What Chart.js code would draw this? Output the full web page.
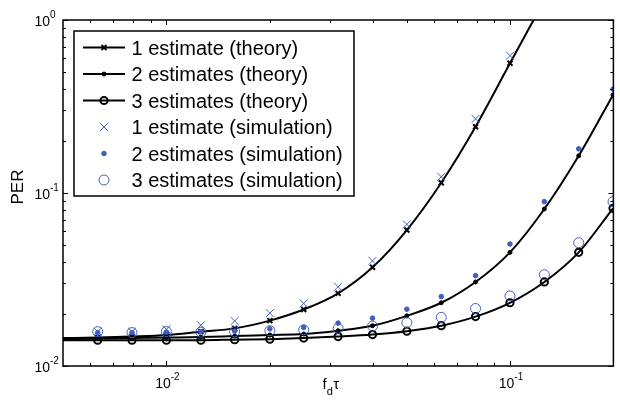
<!DOCTYPE html>
<html><head><meta charset="utf-8">
<script src="https://cdn.jsdelivr.net/npm/chart.js@4"></script>
<style>html,body{margin:0;padding:0;background:#fff}</style>
</head><body>
<canvas id="c" width="620" height="403"></canvas>
<script>
// ---- data ----
const simX    = [0.00631, 0.00794, 0.01, 0.0126, 0.0158, 0.0200, 0.0251, 0.0316, 0.0398, 0.0501, 0.0631, 0.0794, 0.1, 0.1259, 0.1585, 0.1995];
const theoryX = [0.005, 0.00631, 0.00794, 0.01, 0.0126, 0.0158, 0.0200, 0.0251, 0.0316, 0.0398, 0.0501, 0.0631, 0.0794, 0.1, 0.1259, 0.1585, 0.1995];
const theory1 = [0.0145, 0.0146, 0.0148, 0.0151, 0.0158, 0.0165, 0.0183, 0.0212, 0.0263, 0.0372, 0.0611, 0.1147, 0.2417, 0.562, 1.3, null, null];
const theory2 = [0.0143, 0.0144, 0.0145, 0.0146, 0.0147, 0.0149, 0.0151, 0.0153, 0.0160, 0.0171, 0.0195, 0.0232, 0.0306, 0.0454, 0.0808, 0.164, 0.369];
const theory3 = [0.0141, 0.0141, 0.0141, 0.0141, 0.0141, 0.0142, 0.0143, 0.0145, 0.0148, 0.0152, 0.0159, 0.0171, 0.0193, 0.0232, 0.0306, 0.0454, 0.0816];
const sim1    = [0.0158, 0.0158, 0.0163, 0.0172, 0.0182, 0.0202, 0.0230, 0.0287, 0.0405, 0.0659, 0.124, 0.268, 0.622, null, null, null];
const sim2    = [0.0156, 0.0156, 0.0157, 0.0158, 0.0159, 0.0164, 0.0167, 0.0177, 0.0189, 0.0213, 0.0252, 0.0333, 0.0507, 0.0891, 0.180, 0.398];
const sim3    = [0.0158, 0.0156, 0.0158, 0.0157, 0.0158, 0.0160, 0.0162, 0.0165, 0.0170, 0.0178, 0.0191, 0.0215, 0.0254, 0.0337, 0.0516, 0.0891];
const labels  = ['1 estimate (theory)', '2 estimates (theory)', '3 estimates (theory)',
                 '1 estimate (simulation)', '2 estimates (simulation)', '3 estimates (simulation)'];
const xMin = 0.005, xMax = 0.2, yMin = 0.01, yMax = 1;
const xMajor = [0.01, 0.1];
const yMajor = [0.01, 0.1, 1];
const xTickExp = ['-2', '-1'];
const yTickExp = ['-2', '-1', '0'];
const xTitleMain = 'f', xTitleSub = 'd', xTitleEnd = 'τ';
const yTitle = 'PER';

// ---- styling ----
const BLUE = '#3F5FBF';
const FONT = "'Liberation Sans', Arial, Helvetica, sans-serif";
function pts(xs, ys) { return xs.map((x, i) => ({ x: x, y: ys[i] })); }
function theoryDs(label, ys, style, r, fill, bw) {
  return {
    label: label, data: pts(theoryX, ys), showLine: true,
    borderColor: '#000', borderWidth: 2, cubicInterpolationMode: 'monotone',
    pointStyle: style, pointRadius: (c) => c.dataIndex === 0 ? 0 : r,
    pointBorderColor: '#000', pointBackgroundColor: fill, pointBorderWidth: bw,
    mRadius: r, mStyle: style, mFill: fill, mColor: '#000', mBw: bw, isLine: true,
    clip: 0, order: 2
  };
}
function simDs(label, ys, style, r, fill, bw) {
  return {
    label: label, data: pts(simX, ys), showLine: false,
    pointStyle: style, pointRadius: r,
    pointBorderColor: BLUE, pointBackgroundColor: fill, pointBorderWidth: bw,
    mRadius: r, mStyle: style, mFill: fill, mColor: BLUE, mBw: bw, isLine: false,
    clip: 0, order: 1
  };
}

function drawMarker(ctx, ds, x, y) {
  ctx.save();
  ctx.strokeStyle = ds.mColor; ctx.lineWidth = ds.mBw; ctx.fillStyle = ds.mFill;
  const r = ds.mRadius;
  if (ds.mStyle === 'crossRot') {
    const o = r * Math.SQRT1_2;
    ctx.beginPath();
    ctx.moveTo(x - o, y - o); ctx.lineTo(x + o, y + o);
    ctx.moveTo(x + o, y - o); ctx.lineTo(x - o, y + o);
    ctx.stroke();
  } else {
    ctx.beginPath(); ctx.arc(x, y, r, 0, Math.PI * 2);
    ctx.fill(); ctx.stroke();
  }
  ctx.restore();
}

const overlay = {
  id: 'overlay',
  afterDraw(chart) {
    const ctx = chart.ctx, ca = chart.chartArea;
    const xs = chart.scales.x, ys = chart.scales.y;
    ctx.save();
    ctx.strokeStyle = '#000'; ctx.lineWidth = 1.5;
    ctx.strokeRect(ca.left, ca.top, ca.right - ca.left, ca.bottom - ca.top);
    // ticks (inside, on all four sides)
    ctx.lineWidth = 1;
    function minors(lo, hi) {
      const out = [];
      for (let d = 1e-4; d <= 10; d *= 10)
        for (let k = 2; k <= 9; k++) { const v = k * d; if (v > lo * 1.0001 && v < hi * 0.9999) out.push(v); }
      return out;
    }
    function xTick(v, len) {
      const p = Math.round(xs.getPixelForValue(v)) + 0.5;
      ctx.beginPath();
      ctx.moveTo(p, ca.bottom); ctx.lineTo(p, ca.bottom - len);
      ctx.moveTo(p, ca.top); ctx.lineTo(p, ca.top + len);
      ctx.stroke();
    }
    function yTick(v, len) {
      const p = Math.round(ys.getPixelForValue(v)) + 0.5;
      ctx.beginPath();
      ctx.moveTo(ca.left, p); ctx.lineTo(ca.left + len, p);
      ctx.moveTo(ca.right, p); ctx.lineTo(ca.right - len, p);
      ctx.stroke();
    }
    minors(xMin, xMax).forEach(v => xTick(v, 3));
    xMajor.forEach(v => xTick(v, 5));
    minors(yMin, yMax).forEach(v => yTick(v, 3));
    yMajor.forEach(v => yTick(v, 5));

    // tick labels
    ctx.fillStyle = '#000'; ctx.textAlign = 'left'; ctx.textBaseline = 'alphabetic';
    const baseFont = '14px ' + FONT, expFont = '10px ' + FONT;
    yMajor.forEach((v, i) => {
      const py = ys.getPixelForValue(v);
      ctx.font = baseFont;
      const wb = ctx.measureText('10').width;
      const right = ca.left - 13;
      ctx.fillText('10', right - wb, py + 5.5);
      ctx.font = expFont;
      ctx.fillText(yTickExp[i], right, py - 2);
    });
    xMajor.forEach((v, i) => {
      const px = xs.getPixelForValue(v);
      ctx.font = baseFont; const wb = ctx.measureText('10').width;
      ctx.font = expFont; const we = ctx.measureText(xTickExp[i]).width;
      const start = px - (wb + we) / 2 + 1;
      ctx.font = baseFont; ctx.fillText('10', start, ca.bottom + 22);
      ctx.font = expFont; ctx.fillText(xTickExp[i], start + wb, ca.bottom + 13.5);
    });

    // axis titles
    ctx.save();
    ctx.translate(23, (ca.top + ca.bottom) / 2 - 6);
    ctx.rotate(-Math.PI / 2);
    ctx.font = '17px ' + FONT; ctx.textAlign = 'center';
    ctx.fillText(yTitle, 0, 0);
    ctx.restore();
    ctx.textAlign = 'left';
    let tx = 322.5;
    ctx.font = '15px ' + FONT; ctx.fillText(xTitleMain, tx, ca.bottom + 22.5);
    tx += ctx.measureText(xTitleMain).width;
    ctx.font = '11px ' + FONT; ctx.fillText(xTitleSub, tx, ca.bottom + 29);
    tx += ctx.measureText(xTitleSub).width + 0.5;
    ctx.font = '15px ' + FONT; ctx.fillText(xTitleEnd, tx, ca.bottom + 22.5);

    // legend
    const lx = ca.left + 11, ly = ca.top + 11, lw = 280, lh = 165;
    ctx.fillStyle = '#fff';
    ctx.fillRect(lx, ly, lw, lh);
    ctx.strokeStyle = '#000'; ctx.lineWidth = 1.5;
    ctx.strokeRect(lx, ly, lw, lh);
    const dsets = chart.data.datasets;
    ctx.font = '20px ' + FONT; ctx.fillStyle = '#000'; ctx.textBaseline = 'alphabetic';
    dsets.forEach((ds, i) => {
      const ry = ly + 16.5 + i * 26.5;
      if (ds.isLine) {
        ctx.strokeStyle = '#000'; ctx.lineWidth = 2;
        ctx.beginPath(); ctx.moveTo(lx + 9, ry); ctx.lineTo(lx + 51, ry); ctx.stroke();
      }
      drawMarker(ctx, ds, lx + 30, ry);
      ctx.fillStyle = '#000';
      ctx.fillText(ds.label, lx + 57.5, ry + 7);
    });
    ctx.restore();
  }
};

new Chart(document.getElementById('c'), {
  type: 'scatter',
  data: {
    datasets: [
      theoryDs(labels[0], theory1, 'crossRot', 3.5, '#000', 2),
      theoryDs(labels[1], theory2, 'circle', 2, '#000', 1),
      theoryDs(labels[2], theory3, 'circle', 3.6, 'rgba(0,0,0,0)', 2),
      simDs(labels[3], sim1, 'crossRot', 5.6, BLUE, 1),
      simDs(labels[4], sim2, 'circle', 2.3, BLUE, 1),
      simDs(labels[5], sim3, 'circle', 5, 'rgba(0,0,0,0)', 1)
    ]
  },
  options: {
    responsive: false, animation: false, devicePixelRatio: 1,
    layout: { padding: { left: 63, top: 20, right: 2, bottom: 37 } },
    plugins: { legend: { display: false }, tooltip: { enabled: false } },
    scales: {
      x: { type: 'logarithmic', min: xMin, max: xMax, display: false },
      y: { type: 'logarithmic', min: yMin, max: yMax, display: false }
    }
  },
  plugins: [overlay]
});
</script>
</body></html>
